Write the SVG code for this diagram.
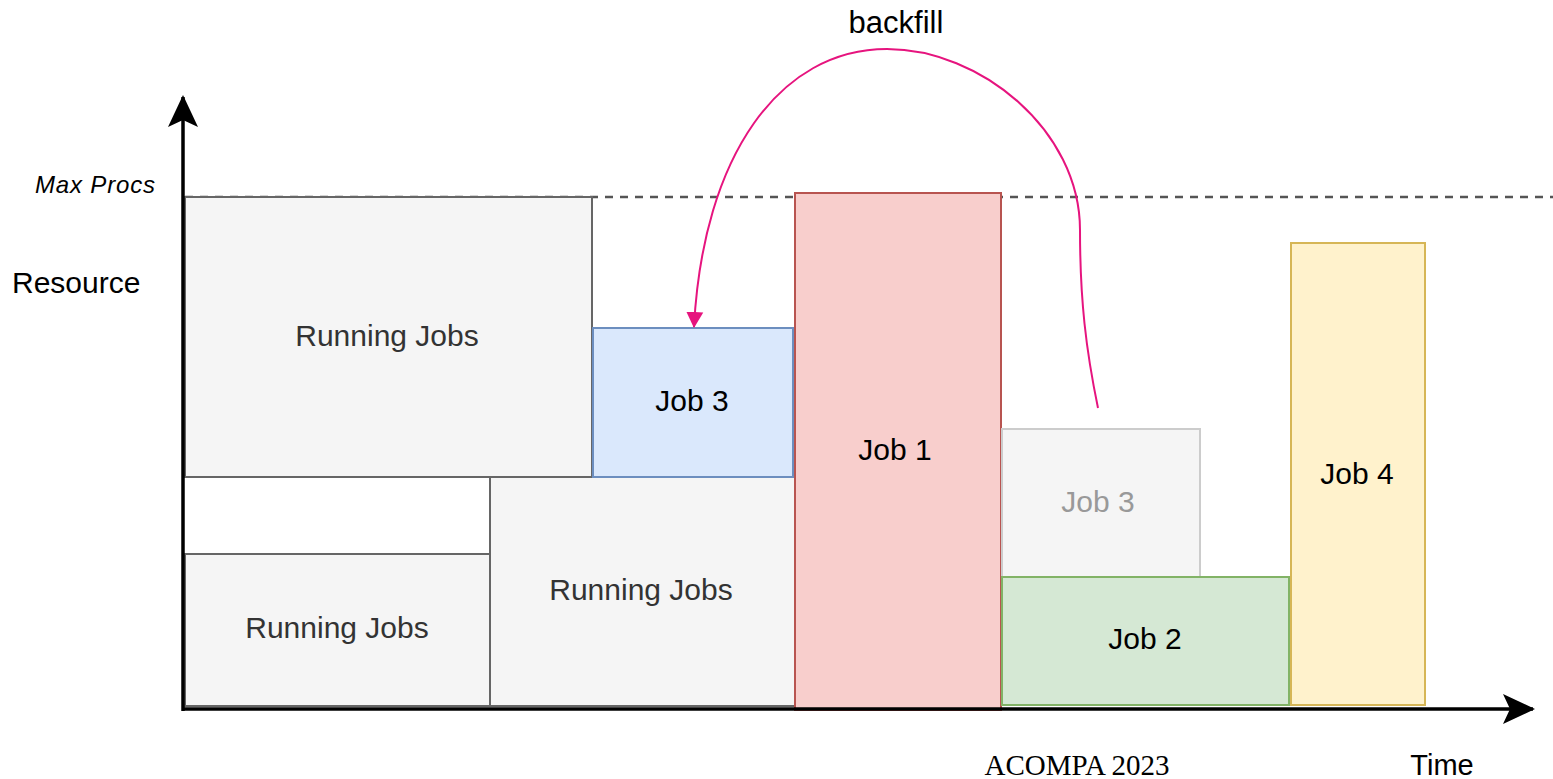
<svg xmlns="http://www.w3.org/2000/svg" width="1553" height="779" viewBox="0 0 1553 779">
  <style>
    .lbl { font-family: "Liberation Sans", Arial, Helvetica, sans-serif; font-size: 30px; text-anchor: middle; }
    .run rect { fill: #f5f5f5; stroke: #666666; stroke-width: 2; }
    .run text { fill: #333333; }
    .job text { fill: #000000; }
    .axis { stroke: #000000; stroke-width: 3.5; fill: none; }
    .cap { font-family: "Liberation Sans", Arial, Helvetica, sans-serif; fill: #000000; }
  </style>
  <defs>
    <marker id="axisHead" viewBox="0 0 32 32" markerUnits="userSpaceOnUse" markerWidth="32" markerHeight="32" refX="30" refY="16" orient="auto">
      <path d="M0 1 L32 16 L0 31 L7 16 Z" fill="#000000"/>
    </marker>
    <marker id="pinkHead" viewBox="0 0 16 18" markerUnits="userSpaceOnUse" markerWidth="16" markerHeight="18" refX="15" refY="9" orient="auto">
      <path d="M0 0.5 L16 9 L0 17.5 Z" fill="#e6147e"/>
    </marker>
  </defs>

  <rect width="1553" height="779" fill="#ffffff"/>

  <!-- capacity limit -->
  <line x1="185" y1="197" x2="1553" y2="197" stroke="#555555" stroke-width="2.5" stroke-dasharray="8 7"/>

  <!-- running jobs -->
  <g id="running-top" class="run">
    <rect x="185" y="197" width="407" height="280"/>
    <text class="lbl" x="387" y="346">Running Jobs</text>
  </g>
  <g id="running-middle" class="run">
    <rect x="490" y="477" width="305" height="229"/>
    <text class="lbl" x="641" y="600">Running Jobs</text>
  </g>
  <g id="running-bottom" class="run">
    <rect x="185" y="554" width="305" height="152"/>
    <text class="lbl" x="337" y="638">Running Jobs</text>
  </g>

  <!-- queued jobs -->
  <g id="job3" class="job">
    <rect x="593" y="328" width="200" height="149" fill="#dae8fc" stroke="#6c8ebf" stroke-width="2"/>
    <text class="lbl" x="692" y="411">Job 3</text>
  </g>
  <g id="job1" class="job">
    <rect x="795" y="193" width="206" height="517" fill="#f8cecc" stroke="#b85450" stroke-width="2"/>
    <text class="lbl" x="895" y="460">Job 1</text>
  </g>
  <g id="job3-original">
    <rect x="1002" y="429" width="198" height="148" fill="#f5f5f5" stroke="#cccccc" stroke-width="2"/>
    <text class="lbl" x="1098" y="512" fill="#999999">Job 3</text>
  </g>
  <g id="job2" class="job">
    <rect x="1002" y="577" width="287" height="128" fill="#d5e8d4" stroke="#82b366" stroke-width="2"/>
    <text class="lbl" x="1145" y="649">Job 2</text>
  </g>
  <g id="job4" class="job">
    <rect x="1291" y="243" width="134" height="462" fill="#fff2cc" stroke="#d6b656" stroke-width="2"/>
    <text class="lbl" x="1357" y="484">Job 4</text>
  </g>

  <!-- axes and connectors -->
  <g id="connectors">
    <line class="axis" x1="183" y1="711" x2="183" y2="97" marker-end="url(#axisHead)"/>
    <line class="axis" x1="183" y1="709" x2="1533" y2="709" marker-end="url(#axisHead)"/>
    <path d="M1098 408 C1086 350 1080 300 1080 230 C1080 130 980 49 887 49 C780 49 703 155 694 327" fill="none" stroke="#e6147e" stroke-width="2" marker-end="url(#pinkHead)"/>
  </g>

  <!-- captions -->
  <text class="cap" x="35" y="193" font-size="24" font-style="italic" textLength="120" lengthAdjust="spacing">Max Procs</text>
  <text class="cap" x="12" y="293" font-size="30">Resource</text>
  <text class="cap" x="896" y="33" font-size="31" text-anchor="middle">backfill</text>
  <text class="cap" x="1442" y="775" font-size="29" text-anchor="middle">Time</text>
  <text x="1077" y="775" font-family="'Liberation Serif', 'Times New Roman', serif" font-size="29" text-anchor="middle" fill="#000000">ACOMPA 2023</text>
</svg>
